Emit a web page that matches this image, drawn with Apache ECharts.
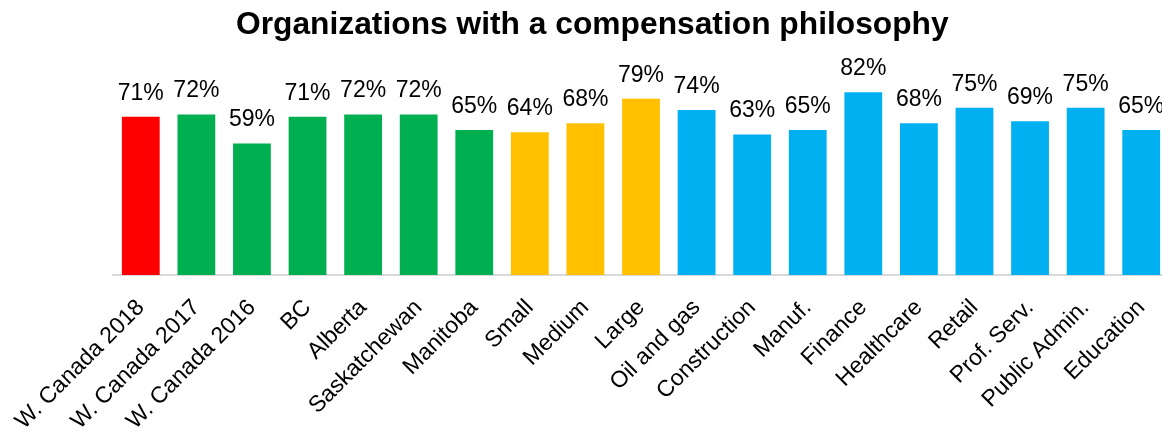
<!DOCTYPE html>
<html>
<head>
<meta charset="utf-8">
<script src="https://cdn.jsdelivr.net/npm/echarts@6/dist/echarts.min.js"></script>
<style>
  html, body { margin: 0; padding: 0; background: #ffffff; }
  #chart { width: 1162px; height: 433px; }
</style>
</head>
<body>
<div id="chart"></div>
<script>
// Share of organizations with a compensation philosophy, by segment
const categories = [
  'W. Canada 2018', 'W. Canada 2017', 'W. Canada 2016', 'BC', 'Alberta',
  'Saskatchewan', 'Manitoba', 'Small', 'Medium', 'Large', 'Oil and gas',
  'Construction', 'Manuf.', 'Finance', 'Healthcare', 'Retail',
  'Prof. Serv.', 'Public Admin.', 'Education'
];
const values = [71, 72, 59, 71, 72, 72, 65, 64, 68, 79, 74, 63, 65, 82, 68, 75, 69, 75, 65];
// Group of each bar: current year, trend/province, size, industry
const groups = ['current', 'region', 'region', 'region', 'region', 'region', 'region',
  'size', 'size', 'size', 'industry', 'industry', 'industry', 'industry', 'industry',
  'industry', 'industry', 'industry', 'industry'];
const groupColors = { current: '#FF0000', region: '#00B050', size: '#FFC000', industry: '#00B0F0' };

const chart = echarts.init(document.getElementById('chart'));
chart.setOption({
  animation: false,
  title: {
    text: 'Organizations with a compensation philosophy',
    left: 231,
    top: 4,
    textStyle: { fontFamily: 'Liberation Sans, Arial', fontWeight: 'bold', fontSize: 31.75, color: '#000' }
  },
  grid: { left: 113, right: -7, top: 52, bottom: 158, containLabel: false, outerBoundsMode: 'none' },
  xAxis: {
    type: 'category',
    data: categories,
    axisLine: { show: true, lineStyle: { color: '#D9D9D9', width: 2 } },
    axisTick: { show: false },
    axisLabel: {
      interval: 0,
      rotate: 45,
      margin: 29,
      fontFamily: 'Liberation Sans, Arial',
      fontSize: 23,
      color: '#000'
    }
  },
  yAxis: {
    type: 'value',
    min: 0,
    max: 100,
    show: false
  },
  series: [{
    type: 'bar',
    barWidth: '68%',
    data: values.map((v, i) => ({ value: v, itemStyle: { color: groupColors[groups[i]] } })),
    label: {
      show: true,
      position: 'top',
      distance: 12,
      formatter: p => p.value + '%',
      fontFamily: 'Liberation Sans, Arial',
      fontSize: 23,
      color: '#000'
    }
  }]
});
</script>
</body>
</html>
